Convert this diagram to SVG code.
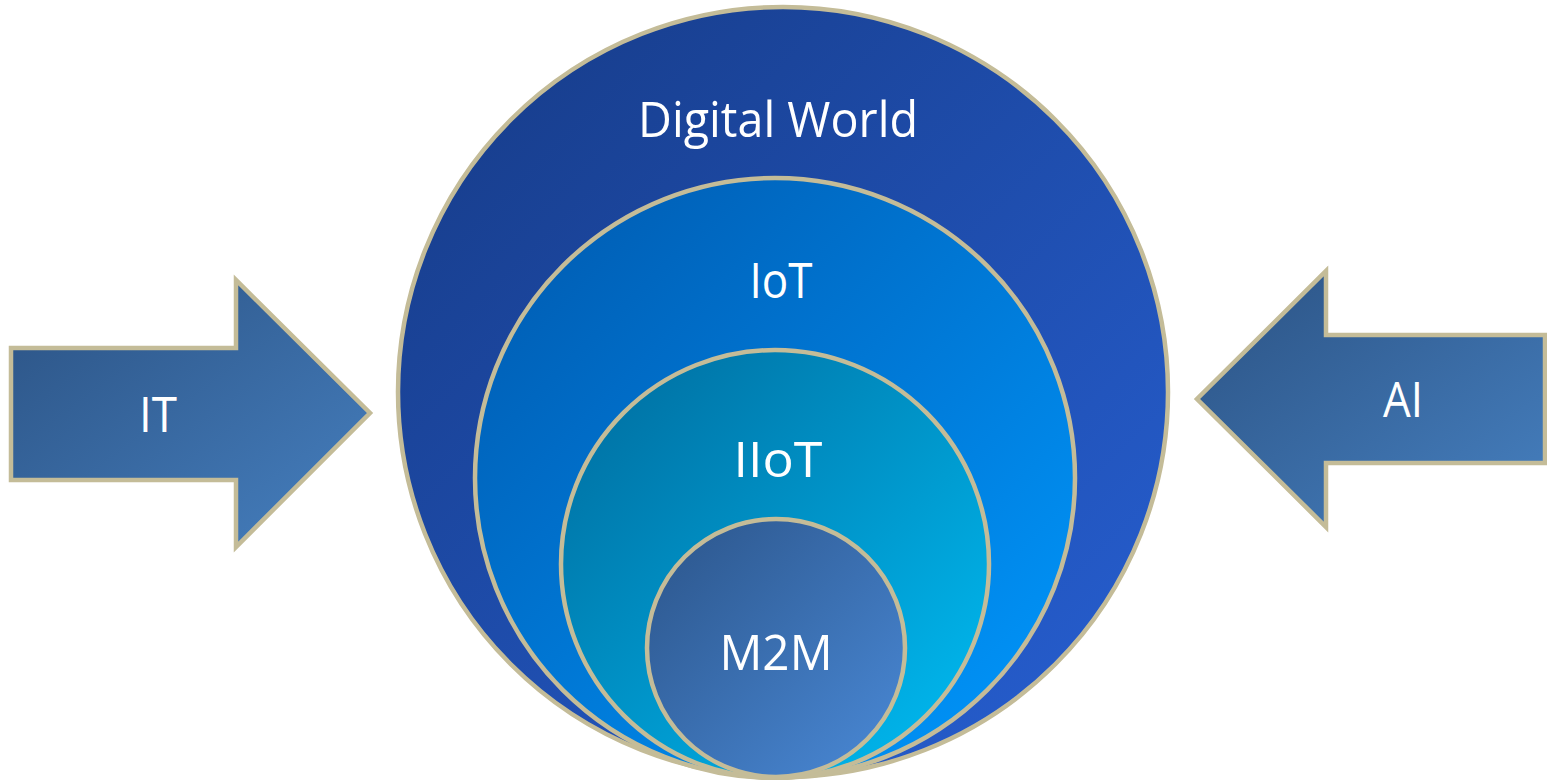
<svg xmlns="http://www.w3.org/2000/svg" width="1547" height="780" viewBox="0 0 1547 780">
<defs>
<linearGradient id="gOuter" x1="0" y1="0" x2="1" y2="1">
<stop offset="0" stop-color="#163a85"/>
<stop offset="1" stop-color="#2760d4"/>
</linearGradient>
<linearGradient id="gIoT" x1="0" y1="0" x2="1" y2="1">
<stop offset="0" stop-color="#0058ad"/>
<stop offset="1" stop-color="#0099ff"/>
</linearGradient>
<linearGradient id="gIIoT" x1="0" y1="0" x2="1" y2="1">
<stop offset="0" stop-color="#006a9c"/>
<stop offset="1" stop-color="#00bef5"/>
</linearGradient>
<linearGradient id="gM2M" x1="0" y1="0" x2="1" y2="1">
<stop offset="0" stop-color="#2b5489"/>
<stop offset="1" stop-color="#4a8ad8"/>
</linearGradient>
<linearGradient id="gArrow" x1="0" y1="0" x2="1" y2="1">
<stop offset="0" stop-color="#2b5283"/>
<stop offset="1" stop-color="#4680c0"/>
</linearGradient>
</defs>
<style>
.shape{stroke:#c4bc98;stroke-width:4.5;stroke-linejoin:miter}
.lbl{font-family:"Open Sans","Noto Sans","DejaVu Sans",sans-serif;font-size:50px;fill:#ffffff;text-anchor:middle}
</style>
<g id="digital-world">
<circle class="shape" cx="783" cy="392" r="385" fill="url(#gOuter)"/>
<text class="lbl" x="778" y="137" textLength="280" lengthAdjust="spacingAndGlyphs">Digital World</text>
</g>
<g id="iot">
<circle class="shape" cx="775" cy="478" r="300" fill="url(#gIoT)"/>
<text class="lbl" x="781" y="298" textLength="63" lengthAdjust="spacingAndGlyphs">IoT</text>
</g>
<g id="iiot">
<circle class="shape" cx="775" cy="564" r="214" fill="url(#gIIoT)"/>
<text class="lbl" x="778" y="477" textLength="89" lengthAdjust="spacingAndGlyphs">IIoT</text>
</g>
<g id="m2m">
<circle class="shape" cx="776" cy="648" r="129" fill="url(#gM2M)"/>
<text class="lbl" x="776" y="670" textLength="113" lengthAdjust="spacingAndGlyphs">M2M</text>
</g>
<g id="it">
<polygon class="shape" points="11,348 236,348 236,280 370,413 236,547 236,480 11,480" fill="url(#gArrow)"/>
<text class="lbl" x="158" y="432" textLength="38" lengthAdjust="spacingAndGlyphs">IT</text>
</g>
<g id="ai">
<polygon class="shape" points="1545,335 1326,335 1326,271 1197,399 1326,527 1326,463 1545,463" fill="url(#gArrow)"/>
<text class="lbl" x="1403" y="417" textLength="40" lengthAdjust="spacingAndGlyphs">AI</text>
</g>
<g id="connectors"></g>
</svg>
